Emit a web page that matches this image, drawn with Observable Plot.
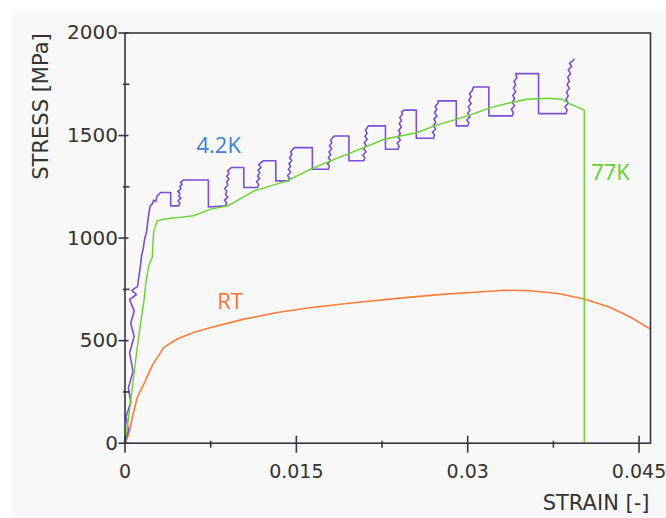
<!DOCTYPE html>
<html>
<head>
<meta charset="utf-8">
<script src="https://cdn.jsdelivr.net/npm/d3@7"></script>
<script src="https://cdn.jsdelivr.net/npm/@observablehq/plot@0.6"></script>
<style>
  html, body { margin: 0; padding: 0; background: #ffffff; }
  #chart { position: absolute; left: 13px; top: 10px; }
  #chart svg { display: block; background: #f8f8f8; overflow: visible; }
</style>
</head>
<body>
<div id="chart"></div>
<script>
// Stress–strain curves of the same alloy at three test temperatures.
// Each point is [strain (-), stress (MPa)].

const curveRT = [
  [0, 0], [0.00033, 45], [0.0007, 140], [0.00107, 223], [0.00165, 288],
  [0.00238, 378], [0.0034, 467], [0.00457, 508], [0.006, 540], [0.0075, 564],
  [0.0104, 605], [0.01333, 637], [0.016, 659], [0.02, 685], [0.025, 712],
  [0.028, 727], [0.0303, 735], [0.0332, 746], [0.0355, 743], [0.0379, 730],
  [0.0402, 703], [0.0425, 662], [0.0443, 613], [0.046, 556]
];

const curve77K = [
  [0, 0], [0.0003, 120], [0.0007, 300], [0.0011, 480], [0.00135, 580],
  [0.00165, 690], [0.0018, 770], [0.00194, 824], [0.0021, 870], [0.00238, 905],
  [0.00245, 980], [0.00252, 1035], [0.00282, 1084], [0.0034, 1092], [0.004, 1097],
  [0.00457, 1100], [0.006, 1109], [0.0075, 1141], [0.009, 1157], [0.0113, 1230],
  [0.0142, 1279], [0.01625, 1336], [0.018, 1377], [0.0209, 1441], [0.0227, 1482],
  [0.0256, 1515], [0.0271, 1547], [0.03, 1596], [0.032, 1636], [0.0338, 1661],
  [0.0352, 1677], [0.037, 1682], [0.0382, 1677], [0.039, 1653], [0.0402, 1624],
  [0.0402, 0]
];

const curve42K = [
  [0, 0], [0.0003, 60], [0.0001, 130], [0.0005, 200], [0.0003, 270], [0.0007, 350],
  [0.0004, 440], [0.0008, 520], [0.0005, 585], [0.0008, 645], [0.0004, 700],
  [0.001, 725], [0.0006, 745], [0.0011, 765], [0.0012, 805], [0.00135, 865],
  [0.00145, 915], [0.0016, 950], [0.0017, 990], [0.0019, 1035], [0.002, 1085],
  [0.0021, 1125], [0.0022, 1155], [0.0024, 1168], [0.0025, 1185], [0.0027, 1178],
  [0.0028, 1205], [0.003, 1215], [0.0031, 1222],
  [0.004, 1222], [0.004, 1157], [0.0047, 1157],
  [0.0048, 1170], [0.00465, 1182], [0.0049, 1195], [0.0047, 1203], [0.0048, 1218],
  [0.00462, 1228], [0.0049, 1240], [0.0048, 1252], [0.005, 1262], [0.00485, 1272], [0.0051, 1283],
  [0.0073, 1283], [0.0073, 1152], [0.0088, 1157],
  [0.0089, 1172], [0.0087, 1185], [0.009, 1200], [0.0088, 1212], [0.0089, 1230],
  [0.00872, 1242], [0.009, 1258], [0.0089, 1275], [0.0091, 1288], [0.0089, 1300],
  [0.0091, 1315], [0.009, 1328], [0.0093, 1344],
  [0.0104, 1344], [0.0104, 1247], [0.0116, 1247],
  [0.0117, 1262], [0.01152, 1275], [0.0118, 1290], [0.0116, 1302], [0.0118, 1318],
  [0.01165, 1330], [0.0119, 1345], [0.0117, 1358], [0.0121, 1377],
  [0.0132, 1377], [0.0132, 1279], [0.0143, 1279],
  [0.0144, 1292], [0.01422, 1305], [0.0145, 1320], [0.0143, 1335], [0.0145, 1350],
  [0.01435, 1362], [0.0146, 1378], [0.0144, 1392], [0.0146, 1408], [0.0145, 1420], [0.0148, 1441],
  [0.0164, 1441], [0.0164, 1336], [0.0178, 1336],
  [0.0179, 1350], [0.01772, 1362], [0.018, 1377], [0.0178, 1392], [0.018, 1408],
  [0.01785, 1420], [0.0181, 1436], [0.0179, 1450], [0.0181, 1465], [0.018, 1478], [0.0183, 1498],
  [0.0196, 1498], [0.0196, 1377], [0.0209, 1377],
  [0.021, 1392], [0.02082, 1405], [0.0211, 1420], [0.0209, 1436], [0.0211, 1452],
  [0.02095, 1466], [0.0212, 1482], [0.021, 1496], [0.0212, 1512], [0.02105, 1526], [0.0213, 1547],
  [0.0228, 1547], [0.0228, 1433], [0.0239, 1433],
  [0.024, 1448], [0.02382, 1462], [0.0241, 1478], [0.0239, 1494], [0.0241, 1510],
  [0.02395, 1525], [0.0242, 1542], [0.024, 1558], [0.0242, 1574], [0.02405, 1588],
  [0.0243, 1604], [0.0242, 1614], [0.0244, 1624],
  [0.0255, 1624], [0.0255, 1487], [0.027, 1487],
  [0.0271, 1502], [0.02692, 1516], [0.0272, 1532], [0.027, 1548], [0.0272, 1564],
  [0.02705, 1580], [0.0273, 1596], [0.0271, 1612], [0.0273, 1628], [0.02715, 1642],
  [0.0274, 1656], [0.0274, 1669],
  [0.029, 1669], [0.029, 1547], [0.03, 1547],
  [0.0301, 1562], [0.02992, 1576], [0.0302, 1592], [0.03, 1608], [0.0302, 1625],
  [0.03005, 1640], [0.0303, 1656], [0.0301, 1672], [0.0303, 1690], [0.03015, 1704],
  [0.0304, 1720], [0.0305, 1737],
  [0.03185, 1737], [0.03185, 1596], [0.0339, 1596],
  [0.034, 1612], [0.03382, 1628], [0.0341, 1645], [0.0339, 1662], [0.0341, 1680],
  [0.03395, 1696], [0.0342, 1714], [0.034, 1730], [0.0342, 1748], [0.03405, 1764],
  [0.0343, 1782], [0.0342, 1802],
  [0.0362, 1802], [0.0362, 1607], [0.0386, 1607],
  [0.0387, 1624], [0.03852, 1640], [0.0388, 1658], [0.0386, 1676], [0.0388, 1694],
  [0.03865, 1712], [0.0389, 1730], [0.0387, 1748], [0.0389, 1766], [0.03875, 1784],
  [0.039, 1802], [0.0388, 1820], [0.0391, 1838], [0.0389, 1852], [0.0392, 1864], [0.0393, 1872]
];

// Series names, centred at (strain, stress).
const seriesLabels = [
  { name: "4.2K", strain: 0.0082, stress: 1450, color: "#3f7fd6" },
  { name: "RT",   strain: 0.0092, stress: 690,  color: "#ff6f35" },
  { name: "77K",  strain: 0.0425, stress: 1316, color: "#62d02c" }
];

const xMajorTicks = [0, 0.015, 0.03, 0.045];
const xTickLabels = ["0", "0.015", "0.03", "0.045"];
const xMinorTicks = [0.0075, 0.0225, 0.0375];
const yMajorTicks = [0, 500, 1000, 1500, 2000];
const yTickLabels = ["0", "500", "1000", "1500", "2000"];
const yMinorTicks = [250, 750, 1250, 1750];

const xTitle = "STRAIN [-]";
const yTitle = "STRESS [MPa]";

const W = 653, H = 508;
const mL = 111.5, mR = 16, mT = 22.5, mB = 75.3;
const plotW = W - mL - mR, plotH = H - mT - mB;
const axisColor = "#3a3442";
const textColor = "#333333";

const chart = Plot.plot({
  width: W,
  height: H,
  marginLeft: mL,
  marginRight: mR,
  marginTop: mT,
  marginBottom: mB,
  style: { background: "#f8f8f8", fontFamily: "DejaVu Sans, sans-serif", color: textColor, overflow: "visible" },
  x: { domain: [0, 0.046], axis: null },
  y: { domain: [0, 2000], axis: null },
  marks: [
    Plot.line(curveRT, { x: d => d[0], y: d => d[1], stroke: "#ff7b3a", strokeWidth: 1.6 }),
    Plot.line(curve42K, { x: d => d[0], y: d => d[1], stroke: "#7a4fd4", strokeWidth: 1.6, strokeLinejoin: "round" }),
    Plot.line(curve77K, { x: d => d[0], y: d => d[1], stroke: "#66d42c", strokeWidth: 1.4 }),
    Plot.frame({ stroke: axisColor, strokeWidth: 1.6 }),
    // ticks crossing the axes
    Plot.tickY(yMajorTicks, { y: d => d, stroke: axisColor, strokeWidth: 1.6, insetLeft: -6, insetRight: plotW - 4 }),
    Plot.tickY(yMinorTicks, { y: d => d, stroke: axisColor, strokeWidth: 1.6, insetLeft: -1.5, insetRight: plotW - 5 }),
    Plot.tickX(xMajorTicks, { x: d => d, stroke: axisColor, strokeWidth: 1.6, insetTop: plotH - 7, insetBottom: -10 }),
    Plot.tickX(xMinorTicks, { x: d => d, stroke: axisColor, strokeWidth: 1.6, insetTop: plotH - 2, insetBottom: -5 }),
    Plot.axisY(yMajorTicks, { tickSize: 0, tickPadding: 7, fontSize: 20, label: null, fill: textColor,
      tickFormat: (d, i) => yTickLabels[i] }),
    Plot.axisX(xMajorTicks, { tickSize: 0, tickPadding: 21, fontSize: 19, label: null, fill: textColor,
      tickFormat: (d, i) => xTickLabels[i] }),
    Plot.text([yTitle], { frameAnchor: "top-left", text: d => d, rotate: -90, dx: -91.5, dy: 73.5,
      textAnchor: "middle", fontSize: 21, fill: textColor }),
    Plot.text([xTitle], { frameAnchor: "bottom-right", text: d => d, dx: -1, dy: 67,
      textAnchor: "end", fontSize: 21, fill: textColor }),
    Plot.text(seriesLabels, { x: "strain", y: "stress", text: "name", fill: "color",
      textAnchor: "middle", fontSize: 22, fontFamily: "Open Sans" })
  ]
});

document.getElementById("chart").appendChild(chart);
</script>
</body>
</html>
